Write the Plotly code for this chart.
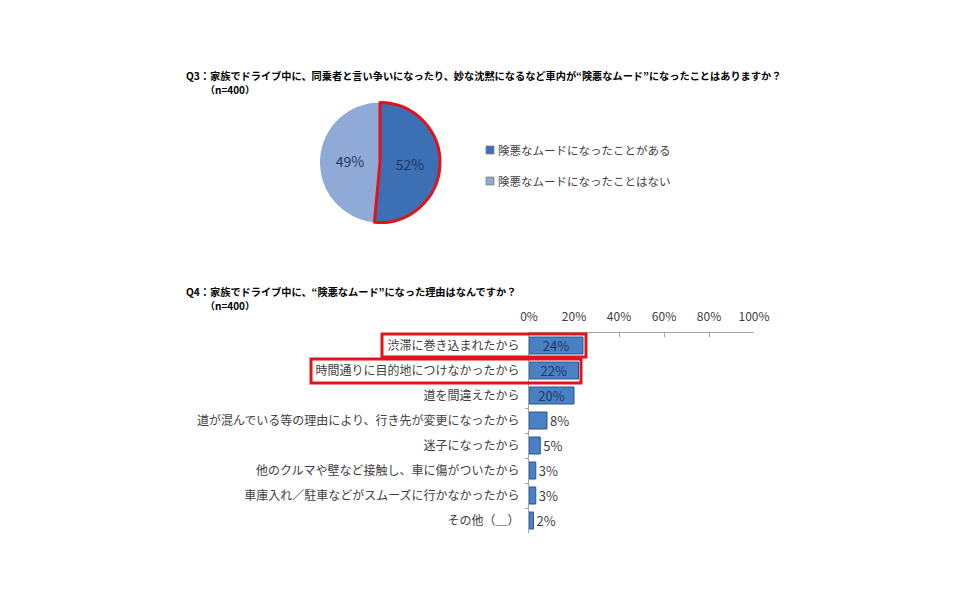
import plotly.graph_objects as go

# ---------------- data ----------------
q3_title = "Q3：家族でドライブ中に、同乗者と言い争いになったり、妙な沈黙になるなど車内が“険悪なムード”になったことはありますか？"
q4_title = "Q4：家族でドライブ中に、“険悪なムード”になった理由はなんですか？"
n_label = "（n=400）"

pie_labels = ["険悪なムードになったことがある", "険悪なムードになったことはない"]
pie_values = [52, 49]

bar_categories = [
    "渋滞に巻き込まれたから",
    "時間通りに目的地につけなかったから",
    "道を間違えたから",
    "道が混んでいる等の理由により、行き先が変更になったから",
    "迷子になったから",
    "他のクルマや壁など接触し、車に傷がついたから",
    "車庫入れ／駐車などがスムーズに行かなかったから",
    "その他（＿）",
]
bar_values = [24, 22, 20, 8, 5, 3, 3, 2]
x_ticks = [0, 20, 40, 60, 80, 100]

# ---------------- styles ----------------
W, H = 968, 605
FONT = "Noto Sans CJK JP"
PIE_COLORS = {pie_labels[0]: "#3D6FB5", pie_labels[1]: "#8FAAD6"}
RED = "#E0141A"
NAVY = "#1F3864"

def px(x):
    return x / W

def py(y):
    return 1 - y / H

fig = go.Figure()

# Pie (drawn in reverse so the highlighted slice is drawn last, on top);
# rotate so the highlighted slice begins at 12 o'clock on the right side
order = [1, 0]
highlight_deg = pie_values[0] / sum(pie_values) * 360
fig.add_trace(go.Pie(
    labels=[pie_labels[i] for i in order],
    values=[pie_values[i] for i in order],
    text=[f"{pie_values[i]}%" for i in order],
    textinfo="text",
    textposition="inside",
    insidetextorientation="horizontal",
    textfont=dict(family=FONT, size=14, color=NAVY),
    sort=False,
    direction="clockwise",
    rotation=highlight_deg,
    marker=dict(colors=[PIE_COLORS[pie_labels[i]] for i in order],
                line=dict(color=["rgba(0,0,0,0)", RED], width=[0, 3])),
    domain=dict(x=[px(320), px(440)], y=[py(223), py(102)]),
    showlegend=False,
    hoverinfo="label+text",
))

# Bars
textpos = ["inside" if v >= 10 else "outside" for v in bar_values]
fig.add_trace(go.Bar(
    y=bar_categories,
    x=bar_values,
    orientation="h",
    text=[f"{v}%" for v in bar_values],
    textposition=textpos,
    insidetextanchor="middle",
    textfont=dict(family=FONT, size=13, color=NAVY),
    outsidetextfont=dict(family=FONT, size=13, color="#404040"),
    constraintext="none",
    cliponaxis=False,
    marker=dict(color="#4A80C4", line=dict(color="#2B5590", width=1)),
    xaxis="x", yaxis="y",
    showlegend=False,
))

fig.update_layout(
    width=W, height=H,
    margin=dict(l=0, r=0, t=0, b=0),
    paper_bgcolor="white", plot_bgcolor="white",
    font=dict(family=FONT, size=12, color="#404040"),
    bargap=0.32,
    xaxis=dict(
        domain=[px(529), px(754)], range=[0, 100], side="top",
        tickvals=x_ticks, ticktext=[f"{t}%" for t in x_ticks],
        showgrid=False, zeroline=False, showline=True, linecolor="#A6A6A6",
        ticks="inside", ticklen=4, tickcolor="#A6A6A6",
        tickfont=dict(family=FONT, size=12, color="#404040"),
        ticklabelstandoff=6,
        anchor="y", automargin=False,
    ),
    yaxis=dict(
        domain=[py(533), py(333)], autorange="reversed",
        showgrid=False, zeroline=False, showline=True, linecolor="#A6A6A6",
        ticks="outside", ticklen=3, tickcolor="#A6A6A6", tickson="boundaries",
        tickfont=dict(family=FONT, size=12, color="#404040"),
        ticklabelstandoff=6,
        anchor="x", automargin=False,
    ),
)

# Titles
anns = [
    dict(x=px(184), y=py(75), text=q3_title, size=10.2),
    dict(x=px(203), y=py(90), text=n_label, size=10),
    dict(x=px(184), y=py(291), text=q4_title, size=10.2),
    dict(x=px(203), y=py(305), text=n_label, size=10),
]
for a in anns:
    fig.add_annotation(x=a["x"], y=a["y"], xref="paper", yref="paper",
                       text=a["text"], showarrow=False, xanchor="left", yanchor="middle",
                       font=dict(family=FONT, size=a["size"], color="#000000", weight="bold"))

# Pie legend
for i, lab in enumerate(pie_labels):
    yc = 150 + i * 31
    fig.add_shape(type="rect", xref="paper", yref="paper",
                  x0=px(486), x1=px(494), y0=py(yc + 4), y1=py(yc - 4),
                  fillcolor=PIE_COLORS[lab], line=dict(color="#7F7F7F", width=0.8))
    fig.add_annotation(x=px(496), y=py(yc), xref="paper", yref="paper",
                       text=lab, showarrow=False, xanchor="left", yanchor="middle",
                       font=dict(family=FONT, size=11.5, color="#404040"))

# Red highlight boxes
for (x0, y0, x1, y1) in [(382, 334, 586, 357), (311, 359, 581, 383)]:
    fig.add_shape(type="rect", xref="paper", yref="paper",
                  x0=px(x0), x1=px(x1), y0=py(y1), y1=py(y0),
                  line=dict(color=RED, width=3), fillcolor="rgba(0,0,0,0)")

fig.write_html("out.html", post_script="document.body.style.margin='0';",
               config={"displayModeBar": False})
